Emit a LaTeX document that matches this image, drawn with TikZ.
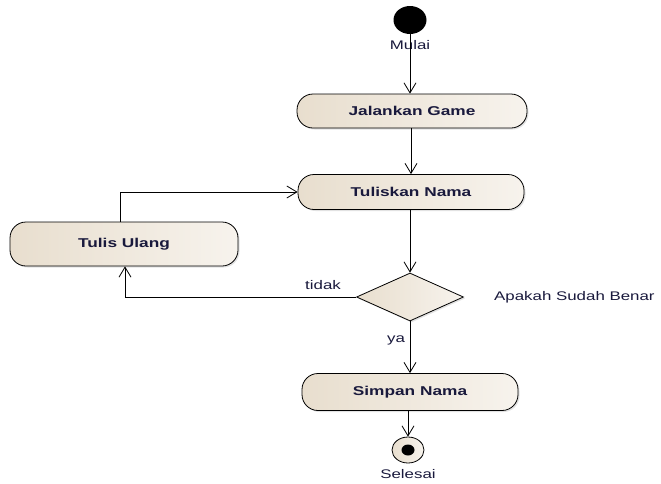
\documentclass[tikz,border=0pt]{standalone}
\usepackage{fontspec}
\setmainfont{Liberation Sans}[FakeStretch=1.35]
\usetikzlibrary{arrows.meta,shapes.geometric,shadows}
\definecolor{txt}{RGB}{25,25,60}
\definecolor{fillL}{RGB}{232,222,206}
\definecolor{fillR}{RGB}{247,243,237}
\tikzset{
  act/.style={draw=black, line width=0.8pt, rounded corners=16pt,
    left color=fillL, right color=fillR,
    drop shadow={shadow xshift=1.5pt, shadow yshift=-1.5pt, fill=gray!45},
    inner sep=0pt, text=txt, font=\fontsize{12.8}{15}\selectfont\bfseries},
  decision/.style={diamond, draw=black, line width=0.8pt,
    left color=fillL, right color=fillR,
    drop shadow={shadow xshift=1.5pt, shadow yshift=-1.5pt, fill=gray!45},
    inner sep=0pt, minimum width=107pt, minimum height=48pt},
  flow/.style={draw=black, line width=0.8pt,
    -{Straight Barb[length=10pt,width=12pt,line width=0.8pt]}},
  lbl/.style={text=txt, font=\fontsize{12.5}{15}\selectfont, inner sep=1pt}
}
\begin{document}
\begin{tikzpicture}[x=1pt,y=-1pt]
\useasboundingbox (0,0) rectangle (661,483);

% start and end states
\node[ellipse, fill=black, minimum width=33pt, minimum height=28pt, inner sep=0pt] (start) at (410,20) {};
\node[lbl] (mulai) at (410,45) {Mulai};

% activities
\node[act, minimum width=230pt, minimum height=34pt] (jg) at (412,111) {Jalankan Game};
\node[act, minimum width=226pt, minimum height=35pt] (tn) at (411,192) {Tuliskan Nama};
\node[act, minimum width=228pt, minimum height=44pt] (tu) at (124,244) {Tulis Ulang};
\node[decision] (dec) at (410,297) {};
\node[act, minimum width=216pt, minimum height=37pt] (sn) at (410,392) {Simpan Nama};

\node[ellipse, draw=black, line width=0.8pt, left color=fillL, right color=fillR,
  minimum width=32pt, minimum height=26pt, inner sep=0pt] (end) at (408,450) {};
\fill[black] (end.center) ellipse (6.5pt and 5.5pt);
\node[lbl] (selesai) at (408,474) {Selesai};

% labels
\node[lbl, anchor=west] (q) at (493,297) {Apakah Sudah Benar};
\node[lbl] (tidak) at (323,285) {tidak};
\node[lbl] (ya) at (396,340) {ya};

% transitions
\draw[flow] (start.south) -- (jg.north -| start.south);
\draw[flow] (jg.south -| tn.north) -- (tn.north);
\draw[flow] (tn.south -| dec.north) -- (dec.north);
\draw[flow] (dec.west) -| ([xshift=1pt]tu.south);
\draw[flow] ([xshift=-4pt]tu.north) |- (tn.west);
\draw[flow] (dec.south) -- (sn.north);
\draw[flow] (sn.south -| end.north) -- (end.north);
\end{tikzpicture}
\end{document}
